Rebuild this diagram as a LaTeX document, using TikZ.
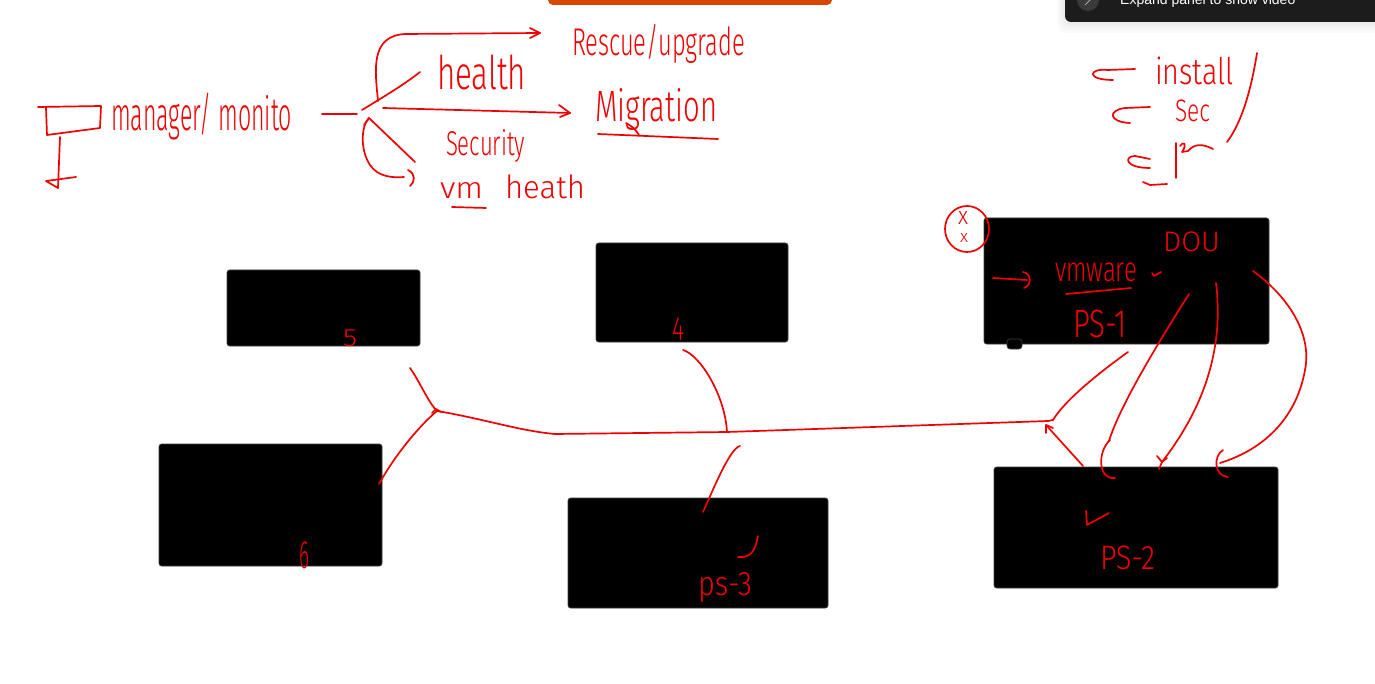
\documentclass[tikz,border=0pt]{standalone}
\usepackage{fontspec}
\usepackage{graphicx}
\IfFontExistsTF{Fira Sans Light}{\newfontfamily\hwfont{Fira Sans Light}}{\newfontfamily\hwfont{Fira Sans}}
\newfontfamily\uifont{Liberation Sans}
\usetikzlibrary{arrows.meta}
\definecolor{pen}{RGB}{240,0,0}
\definecolor{zoomorange}{RGB}{214,72,0}
\definecolor{paneldark}{RGB}{28,28,28}
\definecolor{iconbg}{RGB}{58,58,58}
\tikzset{
  pen/.style={draw=pen, line width=1.7pt, line cap=round, line join=round},
  hwtext/.style={text=pen, font=\hwfont\fontsize{30}{30}\selectfont, inner sep=0pt, outer sep=0pt},
  blackbox/.style={fill=black, draw=black!75, line width=0.6pt, rounded corners=2.5pt, inner sep=0pt, outer sep=0pt},
  shadowlayer/.style={fill=black, opacity=0.018, rounded corners=10pt}
}
\newcommand{\hw}[6]{\node[hwtext, anchor=north west] (#1) at (#2,#3) {\resizebox*{#4pt}{#5pt}{#6}};}
\begin{document}
\begin{tikzpicture}[x=1pt,y=-1pt]
\useasboundingbox (0,0) rectangle (1375,684);
\fill[white] (0,0) rectangle (1375,684);

% ---- screen UI at the top ----
\fill[zoomorange, rounded corners=5pt] (548,-10) rectangle (832,5);
\fill[shadowlayer] (1057,-10) rectangle (1395,33);
\fill[shadowlayer] (1059,-10) rectangle (1395,30);
\fill[shadowlayer] (1061,-10) rectangle (1395,27);
\fill[shadowlayer] (1063,-10) rectangle (1395,25);
\fill[paneldark, rounded corners=6pt] (1065,-10) rectangle (1395,22);
\node[circle, fill=iconbg, minimum size=22pt, inner sep=0pt] (icon) at (1088,0) {};
\draw[gray!70, line width=1pt] (1085,-4) -- (1090,0) -- (1085,5);
\node[anchor=base west, text=white, font=\uifont\fontsize{14}{14}\selectfont, inner sep=0pt] (paneltext) at (1120,5) {Expand panel to show video};

% ---- black boxes ----
\node[blackbox, minimum width=193pt, minimum height=76pt] (b5) at (323.5,308) {};
\node[blackbox, minimum width=192pt, minimum height=99pt] (b4) at (692,292.5) {};
\node[blackbox, minimum width=285pt, minimum height=126pt] (ps1) at (1126.5,281) {};
\node[blackbox, minimum width=15pt, minimum height=10pt, rounded corners=3pt] (ps1tab) at (1014.5,344) {};
\node[blackbox, minimum width=223pt, minimum height=122pt] (b6) at (270.5,505) {};
\node[blackbox, minimum width=260pt, minimum height=110pt] (ps3) at (698,553) {};
\node[blackbox, minimum width=284pt, minimum height=121pt] (ps2) at (1136,527.5) {};

% ---- handwritten texts ----
\hw{tmanager}{111}{93}{181}{47}{manager/ monito}
\hw{trescue}{572}{24}{173}{39}{Rescue/upgrade}
\hw{thealth}{437}{55}{89}{35}{health}
\hw{tmigration}{595}{88}{122}{42}{Migration}
\hw{tsecurity}{446}{130}{79}{33}{Security}
\hw{tvm}{440}{183}{43}{16}{vm}
\hw{theath}{505}{175}{80}{24}{heath}
\hw{tinstall}{1155}{57}{79}{28}{install}
\hw{tsec}{1175}{100}{35}{22}{Sec}
\hw{tvmware}{1055}{263}{82}{19}{vmware}
\hw{tdou}{1163}{232}{57}{20}{DOU}
\hw{tpsone}{1073}{310}{54}{28}{PS-1}
\hw{tpstwo}{1100}{546}{55}{24}{PS-2}
\hw{tpsthree}{698}{572}{54}{30}{ps-3}
\hw{tfive}{343}{330}{14}{17}{5}
\hw{tfour}{672}{317}{12}{23}{4}
\hw{tsix}{299}{542}{10}{27}{6}
\hw{txa}{958}{212}{10}{13}{x}
\hw{txb}{960}{234}{8}{9}{x}

% ---- named points of the sketch ----
\coordinate (j1) at (437,411);
\coordinate (jm) at (555,434);
\coordinate (j2) at (727,432);
\coordinate (j3) at (1048,421);
\coordinate (j3b) at (1053,420);
\coordinate (b5s) at (410,368);
\coordinate (b6s) at (379,484);
\coordinate (b4s) at (683,350);
\coordinate (p3t) at (740,446);
\coordinate (p3s) at (703,512);
\coordinate (p1e) at (1128,352);
\coordinate (p2s) at (1083,466);
\coordinate (p2tip) at (1046,425);
\coordinate (fork) at (362,110);
\coordinate (loop) at (369,118);

% ---- top-left symbol ----
\draw[pen] (38,107) -- (101,106) -- (100,128) -- (47,135) -- (46,108);
\draw[pen] (60,137) -- (58,188);
\draw[pen] (76,177) -- (46,181) -- (58,188);

% ---- fork of tasks ----
\draw[pen] (322,114) -- (357,114);
\draw[pen] (fork) .. controls (385,96) and (405,84) .. (420,72);
\draw[pen] (378,101) .. controls (375,70) and (370,36) .. (405,34) -- (540,33);
\draw[pen] (530,28) -- (540,33) -- (530,38);
\draw[pen] (383,108) -- (570,113);
\draw[pen] (559,105) -- (570,113) -- (560,117);
\draw[pen] (364,125) -- (loop) -- (415,162);
\draw[pen] (loop) .. controls (361,126) and (360,150) .. (370,165) .. controls (378,177) and (393,178) .. (404,177);
\draw[pen] (408,170) .. controls (416,174) and (415,182) .. (410,186);
\draw[pen] (598,134) -- (718,139);
\draw[pen] (626,123) .. controls (632,126) and (636,130) .. (639,135);
\draw[pen] (452,207) -- (486,208);

% ---- top-right notes ----
\draw[pen] (1135,69) -- (1108,70) .. controls (1088,68) and (1086,80) .. (1113,80);
\draw[pen] (1150,107) -- (1125,108) .. controls (1108,110) and (1108,122) .. (1130,123);
\draw[pen] (1150,159) -- (1135,156) .. controls (1124,156) and (1124,168) .. (1150,168);
\draw[pen] (1143,182) -- (1150,185) -- (1167,184);
\draw[pen] (1176,143) -- (1176,178);
\draw[pen] (1180,146) .. controls (1183,141) and (1188,143) .. (1182,152) -- (1188,151);
\draw[pen] (1188,151) .. controls (1195,143) and (1203,144) .. (1213,149);
\draw[pen] (1257,53) .. controls (1251,90) and (1242,122) .. (1227,142);

% ---- marks inside PS-1 ----
\draw[pen] (967,229) ellipse [x radius=22pt, y radius=23pt];
\draw[pen] (993,278) -- (1027,280);
\draw[pen] (1023,272) .. controls (1032,274) and (1032,285) .. (1024,288);
\draw[pen] (1066,294) -- (1131,288);
\draw[pen] (1152,273) -- (1154,276) -- (1161,272);

% ---- ticks in PS-2 and ps-3 ----
\draw[pen] (1086,511) -- (1087,525) -- (1109,513);
\draw[pen] (758,536) .. controls (755,550) and (752,558) .. (738,557);

% ---- network connectors ----
\draw[pen] (b5s) .. controls (420,382) and (428,402) .. (j1);
\draw[pen] (b6s) .. controls (395,455) and (420,425) .. (j1);
\draw[pen] (432,413) -- (436,409) -- (441,412);
\draw[pen] (j1) .. controls (480,418) and (520,431) .. (jm) -- (j2) -- (j3) -- (j3b);
\draw[pen] (j3b) .. controls (1065,400) and (1100,372) .. (p1e);
\draw[pen] (b4s) .. controls (700,355) and (725,395) .. (j2);
\draw[pen] (p3t) .. controls (730,448) and (713,490) .. (p3s);
\draw[pen] (p2s) -- (p2tip);
\draw[pen] (1046,433) -- (p2tip) -- (1053,428);

% ---- connectors PS-1 to PS-2 ----
\draw[pen] (1189,294) .. controls (1160,340) and (1120,405) .. (1109,441);
\draw[pen] (1110,440) .. controls (1097,452) and (1098,480) .. (1115,478);
\draw[pen] (1216,283) .. controls (1223,340) and (1210,400) .. (1162,462);
\draw[pen] (1157,456) -- (1162,462) -- (1167,458);
\draw[pen] (1162,462) -- (1159,469);
\draw[pen] (1253,271) .. controls (1290,298) and (1312,335) .. (1305,370) .. controls (1296,420) and (1262,450) .. (1220,463);
\draw[pen] (1223,450) .. controls (1213,456) and (1214,476) .. (1228,477);
\end{tikzpicture}
\end{document}
